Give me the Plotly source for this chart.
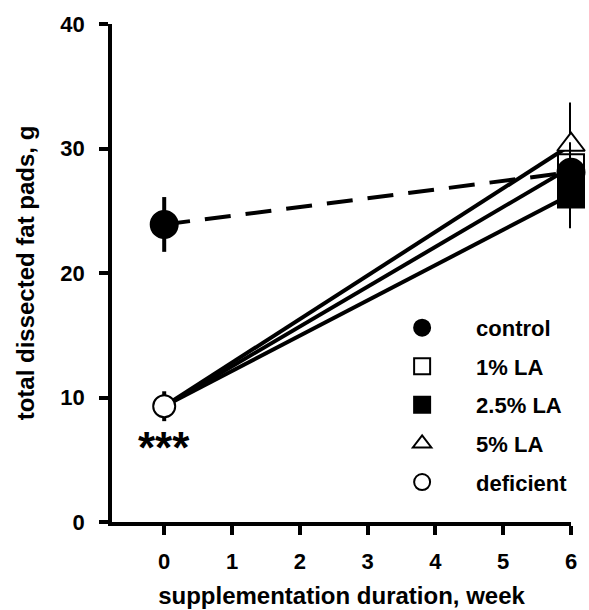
import plotly.graph_objects as go

weeks = [0, 6]
groups = ["control", "1% LA", "2.5% LA", "5% LA", "deficient"]
control_mean = [23.9, 28.1]
control_err = [2.2, 1.5]
deficient_mean = 9.3
deficient_err = 1.2
la_mean = {"1% LA": 28.5, "2.5% LA": 26.3, "5% LA": 30.3}
la_err = {"1% LA": 2.0, "2.5% LA": 2.7, "5% LA": 3.4}

x_ticks = [0, 1, 2, 3, 4, 5, 6]
y_ticks = [0, 10, 20, 30, 40]

FONT = "Liberation Sans, Arial, Helvetica, sans-serif"
fig = go.Figure()

# connecting lines
fig.add_trace(go.Scatter(x=weeks, y=control_mean, mode="lines",
                         line=dict(color="black", width=4, dash="26px,15px"),
                         showlegend=False, hoverinfo="skip", cliponaxis=False))
for g in ["1% LA", "2.5% LA", "5% LA"]:
    fig.add_trace(go.Scatter(x=weeks, y=[deficient_mean, la_mean[g]], mode="lines",
                             line=dict(color="black", width=4),
                             showlegend=False, hoverinfo="skip", cliponaxis=False))

styles = {
    "control": dict(symbol="circle", color="black", size=27),
    "1% LA": dict(symbol="square", color="white", size=26),
    "2.5% LA": dict(symbol="square", color="black", size=26),
    "5% LA": dict(symbol="triangle-up", color="white", size=24),
    "deficient": dict(symbol="circle", color="white", size=22),
}
rank = {g: i for i, g in enumerate(groups)}


def add_marker(name, xs, ys, es):
    s = styles[name]
    fig.add_trace(go.Scatter(
        x=xs, y=ys, mode="markers", name=name, legendgroup=name,
        legendrank=rank[name] + 1,
        marker=dict(symbol=s["symbol"], color=s["color"], size=s["size"],
                    line=dict(color="black", width=2)),
        error_y=dict(type="data", array=es, color="black", thickness=4, width=0),
        cliponaxis=False))


add_marker("5% LA", [6], [la_mean["5% LA"]], [la_err["5% LA"]])
add_marker("1% LA", [6], [la_mean["1% LA"]], [la_err["1% LA"]])
add_marker("2.5% LA", [6], [la_mean["2.5% LA"]], [la_err["2.5% LA"]])
add_marker("control", weeks, control_mean, control_err)
add_marker("deficient", [0], [deficient_mean], [deficient_err])

fig.add_annotation(x=0, y=deficient_mean - 3.3, text="<b>***</b>", showarrow=False,
                   font=dict(size=44, color="black", family=FONT), yanchor="middle")

axis_common = dict(showline=True, linecolor="black", linewidth=3.5, ticks="outside",
                   ticklen=9, tickwidth=3.5, tickcolor="black", showgrid=False,
                   zeroline=False, mirror=False)
fig.update_xaxes(range=[-0.77, 6], tickvals=x_ticks, ticktext=[f"<b>{v}</b>" for v in x_ticks],
                 tickfont=dict(size=22, color="black", family=FONT),
                 title=dict(text="<b>supplementation duration, week</b>",
                            font=dict(size=24, color="black", family=FONT)),
                 automargin=False, ticklabelstandoff=8, **axis_common)
fig.update_yaxes(range=[0, 40], tickvals=y_ticks, ticktext=[f"<b>{v}</b>" for v in y_ticks],
                 tickfont=dict(size=22, color="black", family=FONT),
                 title=dict(text="<b>total dissected fat pads, g</b>",
                            font=dict(size=24, color="black", family=FONT), standoff=20),
                 ticklabelstandoff=10, **axis_common)

fig.update_layout(
    width=589, height=610, margin=dict(l=112, r=18, t=20, b=88),
    plot_bgcolor="white", paper_bgcolor="white",
    legend=dict(x=0.558, y=0.432, xanchor="left", yanchor="top",
                font=dict(size=22, color="black", family=FONT, weight="bold"),
                tracegroupgap=7, traceorder="grouped", itemwidth=98,
                bgcolor="rgba(0,0,0,0)"),
)
fig.write_html("out.html", config={"displayModeBar": False},
               post_script="document.body.style.margin='0';")
